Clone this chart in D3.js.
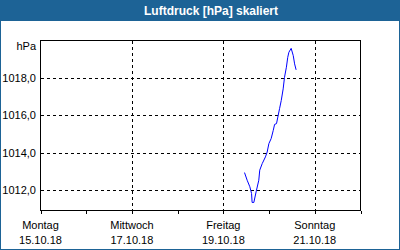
<!DOCTYPE html>
<html>
<head>
<meta charset="utf-8">
<script src="https://cdn.jsdelivr.net/npm/d3@7"></script>
<style>
  body { margin: 0; background: #fff; }
  svg { display: block; font-family: "Liberation Sans", Arial, sans-serif; }
</style>
</head>
<body>
<div id="chart"></div>
<script>
// Chart data
const title = "Luftdruck [hPa] skaliert";
const unit = "hPa";
const times = [
    "2018-10-19 11:06", "2018-10-19 12:30", "2018-10-19 13:54", "2018-10-19 14:48",
    "2018-10-19 15:06", "2018-10-19 16:00", "2018-10-19 17:12", "2018-10-19 18:36",
    "2018-10-19 19:06", "2018-10-19 20:24", "2018-10-19 22:06", "2018-10-19 23:00",
    "2018-10-19 23:54", "2018-10-20 01:06", "2018-10-20 02:12", "2018-10-20 02:54",
    "2018-10-20 03:54", "2018-10-20 04:36", "2018-10-20 05:30", "2018-10-20 06:24",
    "2018-10-20 07:24", "2018-10-20 08:06", "2018-10-20 09:06", "2018-10-20 09:48",
    "2018-10-20 10:24", "2018-10-20 11:36", "2018-10-20 12:42", "2018-10-20 13:24",
    "2018-10-20 14:12"
];
const pressure = [
    1012.93, 1012.52, 1012.17, 1011.81,
    1011.33, 1011.33, 1011.90, 1012.52,
    1013.06, 1013.41, 1013.77, 1014.03,
    1014.48, 1014.75, 1015.19, 1015.51,
    1015.55, 1015.90, 1016.35, 1016.79,
    1017.41, 1018.03, 1018.57, 1019.10,
    1019.37, 1019.58, 1019.19, 1018.75,
    1018.43
];
const yTicks = [1012, 1014, 1016, 1018];
const dayLabels = ["Montag", "Mittwoch", "Freitag", "Sonntag"];
const dateLabels = ["15.10.18", "17.10.18", "19.10.18", "21.10.18"];
const xDomain = ["2018-10-15 00:00", "2018-10-22 00:00"];
const yDomain = [1010.9, 1020];

const parseTime = d3.timeParse("%Y-%m-%d %H:%M");
const parseDay = d3.timeParse("%d.%m.%y");
const data = times.map((t, i) => ({ date: parseTime(t), value: pressure[i] }));

const W = 400, H = 250;
const blue = "#1d6396";

const svg = d3.select("#chart")
    .append("svg")
    .attr("width", W)
    .attr("height", H);

// Frame and title bar
svg.append("rect")
    .attr("x", 0).attr("y", 0).attr("width", W).attr("height", 21)
    .attr("fill", blue);
svg.append("rect")
    .attr("x", 0.5).attr("y", 0.5).attr("width", W - 1).attr("height", H - 1)
    .attr("fill", "none").attr("stroke", blue);
svg.append("text")
    .attr("x", 211).attr("y", 15)
    .attr("text-anchor", "middle")
    .attr("fill", "#fff")
    .attr("font-weight", "bold")
    .attr("font-size", "12px")
    .text(title);

// Scales
const x = d3.scaleTime()
    .domain(xDomain.map(parseTime))
    .range([40.5, 360.5]);
const y = d3.scaleLinear()
    .domain(yDomain)
    .range([210.5, 40.5]);

// Grid lines
const grid = svg.append("g")
    .attr("stroke", "#000")
    .attr("stroke-dasharray", "3,3")
    .attr("shape-rendering", "crispEdges");
grid.selectAll(".hgrid")
    .data(yTicks)
    .enter().append("line")
    .attr("x1", x.range()[0]).attr("x2", x.range()[1])
    .attr("y1", d => Math.round(y(d)) + 0.5)
    .attr("y2", d => Math.round(y(d)) + 0.5);
grid.selectAll(".vgrid")
    .data(dateLabels.slice(1))
    .enter().append("line")
    .attr("x1", d => Math.round(x(parseDay(d))) + 0.5)
    .attr("x2", d => Math.round(x(parseDay(d))) + 0.5)
    .attr("y1", y.range()[1]).attr("y2", y.range()[0]);

// Bottom axis: day ticks
const xAxis = svg.append("g")
    .attr("transform", "translate(0," + y.range()[0] + ")")
    .attr("shape-rendering", "crispEdges")
    .call(d3.axisBottom(x)
        .ticks(d3.timeDay.every(1))
        .tickSize(3)
        .tickSizeOuter(0)
        .tickFormat(""));
xAxis.select(".domain").remove();
xAxis.selectAll(".tick line").attr("stroke", "#000");

// Plot frame
svg.append("rect")
    .attr("x", x.range()[0]).attr("y", y.range()[1])
    .attr("width", x.range()[1] - x.range()[0])
    .attr("height", y.range()[0] - y.range()[1])
    .attr("fill", "none").attr("stroke", "#000")
    .attr("shape-rendering", "crispEdges");

// X labels
const xl = svg.append("g")
    .attr("font-size", "11px")
    .attr("text-anchor", "middle")
    .attr("fill", "#000");
dateLabels.forEach((d, i) => {
    const px = x(parseDay(d));
    xl.append("text").attr("x", px).attr("y", 229).text(dayLabels[i]);
    xl.append("text").attr("x", px).attr("y", 244).text(d);
});

// Y labels
const yl = svg.append("g")
    .attr("font-size", "11px")
    .attr("text-anchor", "end")
    .attr("fill", "#000");
yTicks.forEach(t => {
    yl.append("text")
        .attr("x", 36).attr("y", y(t) + 4)
        .text(d3.format(".1f")(t).replace(".", ","));
});
yl.append("text").attr("x", 36).attr("y", 50).text(unit);

// Pressure line
const line = d3.line()
    .x(d => x(d.date))
    .y(d => y(d.value));
svg.append("path")
    .datum(data)
    .attr("d", line)
    .attr("fill", "none")
    .attr("stroke", "#0000ff")
    .attr("stroke-width", 1);
</script>
</body>
</html>
